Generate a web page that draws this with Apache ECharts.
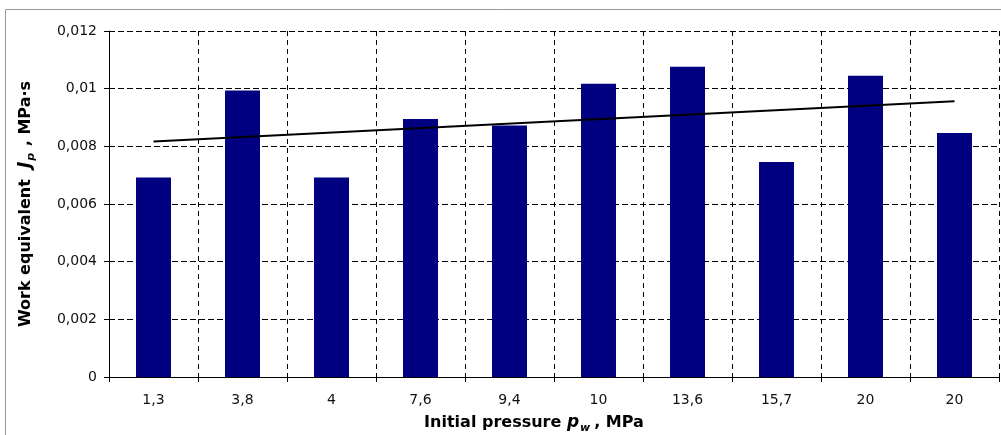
<!DOCTYPE html>
<html>
<head>
<meta charset="utf-8">
<script src="https://cdn.jsdelivr.net/npm/echarts@6/dist/echarts.min.js"></script>
<style>
    html, body { margin: 0; padding: 0; background: #fff; }
    #chart { width: 1001px; height: 435px; }
</style>
</head>
<body>
<div id="chart"></div>
<script>
// initial pressure categories (MPa), as printed under the bars
var categories = ['1,3', '3,8', '4', '7,6', '9,4', '10', '13,6', '15,7', '20', '20'];
// work equivalent Jp, MPa·s
var workValues = [0.00692, 0.00994, 0.00692, 0.00895, 0.00872, 0.01017, 0.01076, 0.00746, 0.01045, 0.00846];
// linear trend, read at first and last category
var trendStart = 0.00817;
var trendEnd = 0.00956;
var yTicks = [0, 0.002, 0.004, 0.006, 0.008, 0.01, 0.012];

var trendData = categories.map(function(c, i) {
    if (i == 0) return trendStart;
    if (i == categories.length - 1) return trendEnd;
    return null;
});

var chart = echarts.init(document.getElementById('chart'));
var labelFont = 'DejaVu Sans';
var option = {
    animation: false,
    graphic: [{
        type: 'rect',
        shape: { x: 5.5, y: 9.5, width: 1200, height: 1000 },
        style: { fill: 'none', stroke: '#9a9a9a', lineWidth: 1 },
        silent: true
    }],
    grid: {
        left: 109,
        right: 2,
        top: 31,
        bottom: 58,
        outerBoundsMode: 'none'
    },
    xAxis: {
        type: 'category',
        data: categories,
        boundaryGap: true,
        axisLine: { show: true, lineStyle: { color: '#000', width: 1 } },
        axisTick: { show: true, length: 5, lineStyle: { color: '#000' } },
        axisLabel: {
            interval: 0,
            margin: 16,
            color: '#111',
            fontFamily: labelFont,
            fontSize: 14
        },
        splitLine: {
            show: true,
            interval: 0,
            lineStyle: { color: '#000', type: [5, 4], width: 1 }
        },
        name: '{b|Initial pressure }{i|p}{s|w}{b|, MPa}',
        nameLocation: 'middle',
        nameGap: 35,
        nameTextStyle: {
            padding: [0, 40, 0, 0],
            rich: {
                b: { fontFamily: labelFont, fontWeight: 'bold', fontSize: 16, color: '#000', lineHeight: 22, verticalAlign: 'middle' },
                i: { fontFamily: labelFont, fontWeight: 'bold', fontStyle: 'italic', fontSize: 17, color: '#000', lineHeight: 22, verticalAlign: 'middle' },
                s: { fontFamily: labelFont, fontWeight: 'bold', fontStyle: 'italic', fontSize: 11, color: '#000', lineHeight: 11, verticalAlign: 'bottom', padding: [0, 4, 0, 1] }
            }
        }
    },
    yAxis: {
        type: 'value',
        min: yTicks[0],
        max: yTicks[yTicks.length - 1],
        interval: yTicks[1] - yTicks[0],
        axisLine: { show: true, lineStyle: { color: '#000', width: 1 } },
        axisTick: { show: true, length: 5, lineStyle: { color: '#000' } },
        axisLabel: {
            margin: 12,
            color: '#111',
            fontFamily: labelFont,
            fontSize: 14,
            formatter: function(v) {
                return String(+v.toFixed(3)).replace('.', ',');
            }
        },
        splitLine: {
            show: true,
            lineStyle: { color: '#000', type: [6, 3], width: 1 }
        },
        name: '{b|Work equivalent  }{i|J}{s|p}{b| , MPa·s}',
        nameLocation: 'middle',
        nameRotate: 90,
        nameGap: 72,
        nameTextStyle: {
            rich: {
                b: { fontFamily: labelFont, fontWeight: 'bold', fontSize: 16, color: '#000', lineHeight: 22, verticalAlign: 'middle' },
                i: { fontFamily: labelFont, fontWeight: 'bold', fontStyle: 'italic', fontSize: 17, color: '#000', lineHeight: 22, verticalAlign: 'middle' },
                s: { fontFamily: labelFont, fontWeight: 'bold', fontStyle: 'italic', fontSize: 11, color: '#000', lineHeight: 11, verticalAlign: 'bottom', padding: [0, 1, 0, 1] }
            }
        }
    },
    series: [{
        name: 'Work equivalent',
        type: 'bar',
        data: workValues,
        barWidth: 35,
        itemStyle: { color: '#000080' },
        z: 2
    }, {
        name: 'Trend',
        type: 'line',
        data: trendData,
        connectNulls: true,
        symbol: 'none',
        lineStyle: { color: '#000', width: 2 },
        z: 3
    }]
};
chart.setOption(option);
</script>
</body>
</html>
